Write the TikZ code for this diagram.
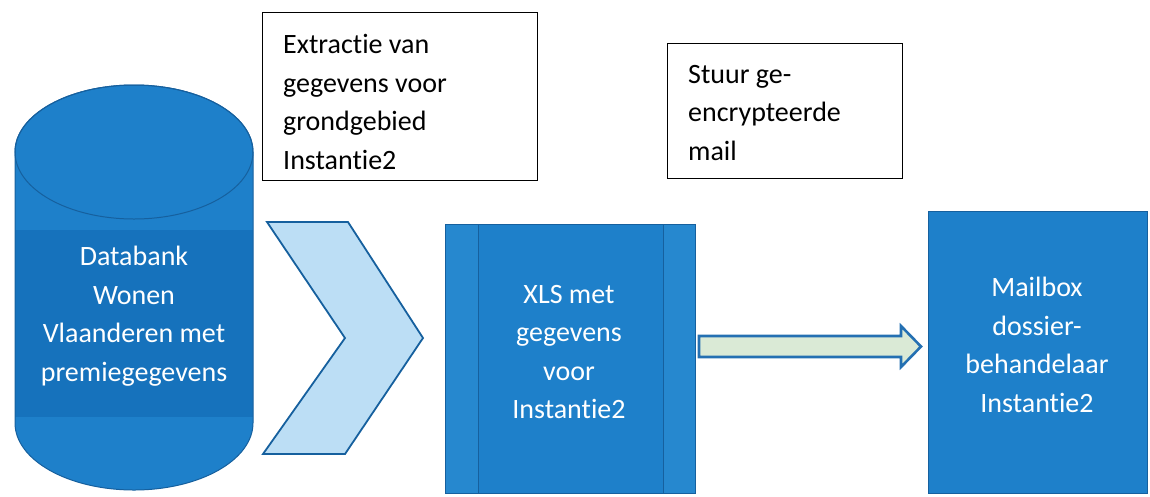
\documentclass[tikz,border=0pt]{standalone}
\usepackage{fontspec}
\setmainfont{Carlito}[RawFeature={-liga,-clig,-dlig}]
\definecolor{bfill}{RGB}{30,128,202}
\definecolor{bband}{RGB}{22,114,188}
\definecolor{bpanel}{RGB}{38,136,207}
\definecolor{bline}{RGB}{22,96,158}
\definecolor{chev}{RGB}{188,222,245}
\definecolor{arrfill}{RGB}{218,234,214}
\definecolor{arrline}{RGB}{36,112,178}
\begin{document}
\begin{tikzpicture}[x=1pt,y=-1pt,
  wlbl/.style={font=\fontsize{28}{38.5}\selectfont, align=center, inner sep=0pt, text=white},
  blbl/.style={font=\fontsize{28}{38.5}\selectfont, align=left, inner sep=0pt, text=black, anchor=west},
  notebox/.style={draw=black, line width=1pt, fill=white},
  bluebox/.style={fill=bfill, draw=bline, line width=1pt},
  chevstyle/.style={fill=chev, draw=bline, line width=1.8pt, line join=miter},
  arrstyle/.style={fill=arrfill, draw=arrline, line width=2.6pt, line join=miter}]
\useasboundingbox (0,0) rectangle (1150,496);
% cylinder
\fill[bfill] (15,152) -- (15,423) arc[start angle=180,end angle=360,x radius=119pt,y radius=67pt] -- (253,152) arc[start angle=0,end angle=180,x radius=119pt,y radius=67pt] -- cycle;
\fill[bband] (15,230) rectangle (253,417);
\draw[bline, line width=1pt] (15,152) -- (15,423) arc[start angle=180,end angle=360,x radius=119pt,y radius=67pt] -- (253,152) arc[start angle=0,end angle=180,x radius=119pt,y radius=67pt] -- cycle;
\draw[bline, line width=1pt] (134,152) ellipse[x radius=119pt, y radius=67pt];
\node[wlbl] (db) at (134,316) {Databank\\Wonen\\Vlaanderen met\\premiegegevens};
% chevron
\draw[chevstyle] (267,222) -- (348,222) -- (423,338) -- (345,454) -- (263,454) -- (345,338) -- cycle;
% note box 1
\draw[notebox] (262,12) rectangle (537,180);
\node[blbl] (n1) at (283,102) {Extractie van\\gegevens voor\\grondgebied\\Instantie2};
% XLS box
\fill[bpanel] (445,224) rectangle (695,493);
\fill[bfill] (478,224) rectangle (663,493);
\draw[bline, line width=1pt] (445,224) rectangle (695,493);
\draw[bline, line width=1pt] (478,224) -- (478,493);
\draw[bline, line width=1pt] (663,224) -- (663,493);
\node[wlbl] (xls) at (569,352) {XLS met\\gegevens\\voor\\Instantie2};
% note box 2
\draw[notebox] (667,43) rectangle (902,178);
\node[blbl] (n2) at (688,113) {Stuur ge-\\encrypteerde\\mail};
% block arrow
\draw[arrstyle] (699,336) -- (901,336) -- (901,326) -- (921,346.5) -- (901,367) -- (901,357) -- (699,357) -- cycle;
% mailbox
\draw[bluebox] (928,211) rectangle (1147,493);
\node[wlbl] (mb) at (1037,345) {Mailbox\\dossier-\\behandelaar\\Instantie2};
\end{tikzpicture}
\end{document}
